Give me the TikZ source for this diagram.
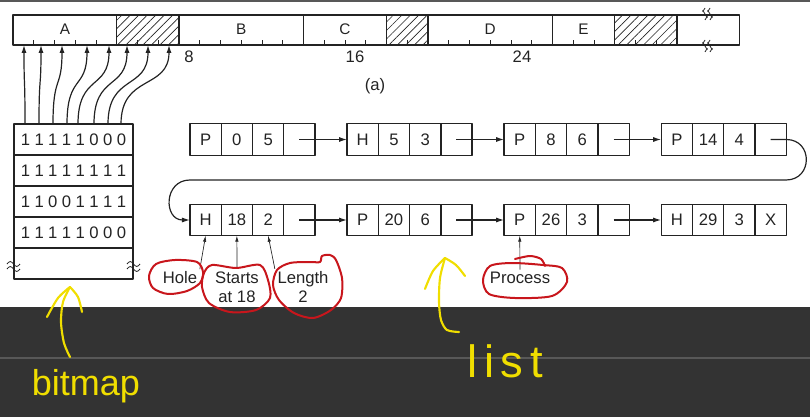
\documentclass[tikz,border=0pt]{standalone}
\usepackage{fontspec}
\setmainfont{Liberation Sans}
\usetikzlibrary{positioning,arrows.meta,patterns.meta}
\definecolor{ink}{RGB}{35,35,35}
\definecolor{pen}{RGB}{200,22,28}
\definecolor{marker}{RGB}{240,222,0}
\definecolor{band}{RGB}{51,51,51}
\definecolor{rule}{RGB}{88,88,88}
\newcommand\bitrow[8]{\makebox[10.3pt]{#1}\makebox[10.3pt]{#2}\makebox[10.3pt]{#3}\makebox[10.3pt]{#4}\makebox[10.3pt]{#5}\makebox[10.3pt]{#6}\makebox[10.3pt]{#7}\makebox[10.3pt]{#8}}
\newcommand\listbox[6]{%
\node[cell,#2] (#1a) {#3};
\node[cell,right=0pt of #1a] (#1b) {#4};
\node[cell,right=0pt of #1b] (#1c) {#5};
\node[cell,right=0pt of #1c] (#1d) {#6};}
\begin{document}
\begin{tikzpicture}[x=0.75pt,y=-0.75pt,line join=round,
every node/.style={font=\fontsize{12.5}{14.25}\selectfont,text=ink,inner sep=0pt,outer sep=0pt},
cell/.style={draw=ink,line width=1pt,minimum width=23.45pt,minimum height=23.6pt},
bits/.style={draw=ink,line width=1pt,minimum width=89.25pt,minimum height=23.25pt},
note/.style={align=center,inner sep=2pt},
hand/.style={text=marker,anchor=base,font=\fontsize{27}{30}\selectfont},
link/.style={draw=ink,line width=0.9pt,-{Latex[length=6pt,width=3.8pt]}},
pin/.style={draw=ink,line width=0.5pt,-{Latex[length=4.5pt,width=2.6pt]}},
circ/.style={draw=pen,line width=1.5pt,line cap=round},
scrawl/.style={draw=marker,line width=1.6pt,line cap=round}]
\useasboundingbox (0,0) rectangle (810,417);
\fill[band] (0,307) rectangle (810,417);
\draw[rule,line width=1pt] (0,358) -- (810,358);
\fill[rule] (0,0) rectangle (810,2);
\fill[pattern={Lines[angle=45,distance=4.5pt,line width=0.5pt]},pattern color=ink] (116.75,15) rectangle (179,45) (386.5,15) rectangle (428,45) (614.75,15) rectangle (677,45);
\draw[ink,line width=1pt] (13,15) rectangle (739.25,45);
\foreach \k in {5,8,14,18,20,26,29,32} \draw[ink,line width=1pt] (13+20.75*\k,15) -- ++(0,30);
\foreach \k in {1,2,3,4,6,7,9,10,11,12,13,15,16,17,19,21,22,23,24,25,27,28,30,31} \draw[ink,line width=0.7pt] (13+20.75*\k,45) -- ++(0,-5);
\foreach \x in {705,710} {
\draw[ink,line width=0.6pt] (\x,8) sin ++(-2.5,3) cos ++(2.5,3) sin ++(2.5,3) cos ++(-2.5,3);
\draw[ink,line width=0.6pt] (\x,40) sin ++(-2.5,3) cos ++(2.5,3) sin ++(2.5,3) cos ++(-2.5,3);
}
\node[font=\fontsize{11.5}{13}\selectfont] (segA) at (65,29) {A};
\node[font=\fontsize{11.5}{13}\selectfont] (segB) at (241.25,29) {B};
\node[font=\fontsize{11.5}{13}\selectfont] (segC) at (345,29) {C};
\node[font=\fontsize{11.5}{13}\selectfont] (segD) at (490.25,29) {D};
\node[font=\fontsize{11.5}{13}\selectfont] (segE) at (583.6,29) {E};
\node (n8) at (189,57) {8};
\node (n16) at (355,57) {16};
\node (n24) at (522,57) {24};
\node (cap) at (375,86) {(a)};
\node[bits] (row1) at (73.5,139.5) {\bitrow11111000};
\node[bits,below=0pt of row1] (row2) {\bitrow11111111};
\node[bits,below=0pt of row2] (row3) {\bitrow11001111};
\node[bits,below=0pt of row3] (row4) {\bitrow11111000};
\node[bits,below=0pt of row4] (row5) {};
\foreach \x in {7,127} {
\draw[ink,line width=0.6pt] (\x,264) sin ++(3.25,-2.5) cos ++(3.25,2.5) sin ++(3.25,2.5) cos ++(3.25,-2.5);
\draw[ink,line width=0.6pt] (\x,269) sin ++(3.25,-2.5) cos ++(3.25,2.5) sin ++(3.25,2.5) cos ++(3.25,-2.5);
}
\foreach \b/\m [count=\i] in {25/24,39/41,53/62,67/87,78/109,94/127,108/148,121/169} {
\coordinate (bit\i) at (\b,124);
\coordinate (mem\i) at (\m,45);
\draw[link] (bit\i) .. controls +(0,-50) and +(0,45) .. (mem\i);
}
\listbox{p0}{at={(205.6,139.5)}}{P}{0}{5}{}
\listbox{h5}{right=24pt of p0d}{H}{5}{3}{}
\listbox{p8}{right=24pt of h5d}{P}{8}{6}{}
\listbox{p14}{right=24pt of p8d}{P}{14}{4}{}
\listbox{h18}{at={(205.6,220)}}{H}{18}{2}{}
\listbox{p20}{right=24pt of h18d}{P}{20}{6}{}
\listbox{p26}{right=24pt of p20d}{P}{26}{3}{}
\listbox{h29}{right=24pt of p26d}{H}{29}{3}{X}
\coordinate (wrapR) at (786,180);
\coordinate (wrapL) at (190,180);
\draw[link] (p0d.center) -- (h5a.west);
\draw[link] (h5d.center) -- (p8a.west);
\draw[link] (p8d.center) -- (p14a.west);
\draw[link] (p14d.center) -- (p14d.east) to[out=0,in=0,looseness=1.7] (wrapR) -- (wrapL) to[out=180,in=180,looseness=1.7] (h18a.west);
\draw[link] (h18d.center) -- (p20a.west);
\draw[link] (p20d.center) -- (p26a.west);
\draw[link] (p26d.center) -- (h29a.west);
\node[note] (hole) at (180,278) {Hole};
\node[note] (starts) at (237,287) {Starts\\at 18};
\node[note] (length) at (303,287) {Length\\2};
\node[note] (process) at (520,278) {Process};
\draw[pin] (hole.north east) -- (h18a.south);
\draw[pin] (starts.north) -- (h18b.south);
\draw[pin] (length.north west) -- (h18c.south);
\draw[pin] (process.north) -- (p26a.south);
\draw[circ] plot[smooth cycle] coordinates {(197,262) (175,260) (156,264) (149,276) (153,288) (168,294) (187,291) (200,283) (203,272)};
\draw[circ] plot[smooth cycle] coordinates {(212,265) (236,268) (260,265) (268,280) (270,298) (256,310) (230,312) (209,303) (202,287) (204,273)};
\draw[circ] plot[smooth cycle] coordinates {(277,270) (290,263) (310,262) (320,262) (322,256) (330,255) (336,260) (342,278) (341,298) (331,310) (313,318) (294,313) (279,300) (273,285)};
\draw[circ] plot[smooth cycle] coordinates {(543,265) (512,263) (490,266) (483,280) (489,294) (515,298) (552,296) (567,282) (562,268)};
\draw[circ] plot[smooth] coordinates {(515,259) (530,256) (541,259) (545,266)};
\draw[scrawl] plot[smooth] coordinates {(70,287) (63,302) (61,322) (64,343) (70,357)};
\draw[scrawl] plot[smooth] coordinates {(70,287) (58,298) (47,317)};
\draw[scrawl] plot[smooth] coordinates {(70,287) (78,297) (82,312)};
\draw[scrawl] plot[smooth] coordinates {(445,258) (440,278) (439,302) (441,320) (447,330) (459,332)};
\draw[scrawl] plot[smooth] coordinates {(445,258) (433,271) (425,289)};
\draw[scrawl] plot[smooth] coordinates {(445,258) (456,265) (465,276)};
\node[hand] (bitmap) at (86,395) {bitmap};
\node[hand,font=\fontsize{34}{36}\selectfont] (list) at (505,377) {l\kern5pt i\kern5pt s\kern5pt t};
\end{tikzpicture}
\end{document}
